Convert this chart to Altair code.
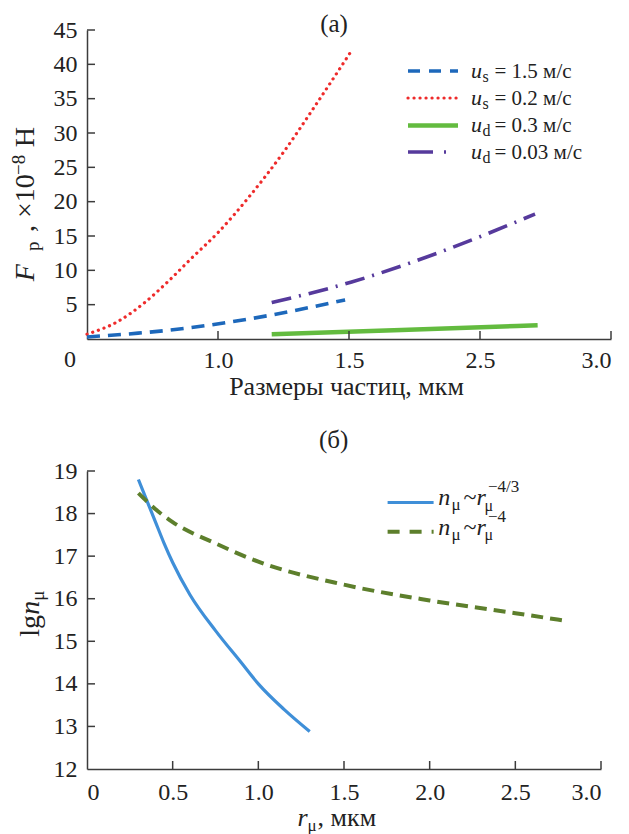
import altair as alt
import pandas as pd

FONT = "Liberation Serif"
TXT = "#222222"
AX = "#3c3c3c"

# ---------- panel (a) data: x in tick-position units (ticks labelled below) ----------
X_TICK_POS = [0, 1, 2, 3, 4]
X_TICK_LABELS = ["0", "1.0", "1.5", "2.5", "3.0"]
Y_TICKS_A = [5, 10, 15, 20, 25, 30, 35, 40, 45]

RED_U = [0, 0.24, 0.44, 0.62, 0.8, 1.0, 1.25, 1.5, 1.75, 2.02]
RED_F = [0.7, 2.6, 5.3, 8.4, 11.8, 15.5, 21.0, 27.2, 34.2, 42.0]
BLUE_U = [0, 0.39, 0.77, 1.1, 1.41, 1.97]
BLUE_F = [0.3, 0.85, 1.6, 2.5, 3.5, 5.7]
PURPLE_U = [1.41, 2.02, 2.5, 3.0, 3.42]
PURPLE_F = [5.3, 8.3, 11.3, 14.9, 18.2]
GREEN_U = [1.41, 2.4, 3.44]
GREEN_F = [0.7, 1.3, 2.0]

# ---------- panel (б) data ----------
X_TICKS_B = [0.5, 1.0, 1.5, 2.0, 2.5, 3.0]
Y_TICKS_B = [13, 14, 15, 16, 17, 18, 19]
N1_R = [0.3, 0.35, 0.4, 0.45, 0.5, 0.6, 0.75, 0.9, 1.0, 1.15, 1.3]
N1_LG = [18.8, 18.3, 17.8, 17.3, 16.85, 16.1, 15.25, 14.5, 14.0, 13.4, 12.88]
N2_R = [0.3, 0.4, 0.5, 0.75, 1.0, 1.5, 2.0, 2.5, 2.78]
N2_LG = [18.48, 18.1, 17.8, 17.3, 16.87, 16.33, 15.96, 15.66, 15.49]

WA, HA = 524, 309
WB, HB = 514, 298

ONE = alt.Data(values=[{"k": 1}])


def txt(s, x, y, size=22, style="normal", angle=0, align="left", baseline="alphabetic"):
    return alt.Chart(ONE).mark_text(
        text=s, fontSize=size, fontStyle=style, angle=angle, align=align,
        baseline=baseline, font=FONT, color=TXT
    ).encode(x=alt.value(x), y=alt.value(y))


def leg_line(x1, x2, y, color, width, dash=None, cap="butt"):
    kw = dict(color=color, strokeWidth=width, strokeCap=cap)
    if dash:
        kw["strokeDash"] = dash
    return alt.Chart(ONE).mark_rule(**kw).encode(
        x=alt.value(x1), x2=alt.value(x2), y=alt.value(y))


AXIS_STYLE = dict(title=None, labelFont=FONT, labelFontSize=24, labelColor=TXT,
                  ticks=False, tickSize=0, grid=False, domainColor=AX, domainWidth=1.5)

# ================= panel (a) =================
xa = alt.X("u:Q", scale=alt.Scale(domain=[0, 4], nice=False, zero=False),
           axis=alt.Axis(values=[1, 2, 3, 4], labelPadding=9,
                         labelExpr="['0','1.0','1.5','2.5','3.0'][datum.value]", **AXIS_STYLE))
ya = alt.Y("f:Q", scale=alt.Scale(domain=[0, 45], nice=False),
           axis=alt.Axis(values=Y_TICKS_A, labelPadding=10, **AXIS_STYLE))


def series_a(us, fs, **mk):
    df = pd.DataFrame({"u": us, "f": fs})
    return alt.Chart(df).mark_line(interpolate="monotone", **mk).encode(x=xa, y=ya)


red = series_a(RED_U, RED_F, color="#ee2b2b", strokeWidth=3.2, strokeDash=[0.1, 5.9], strokeCap="round")
blue = series_a(BLUE_U, BLUE_F, color="#1d68bb", strokeWidth=3.6, strokeDash=[13, 8])
purple = series_a(PURPLE_U, PURPLE_F, color="#563a9c", strokeWidth=3.6, strokeDash=[20, 8, 2, 8])
green = series_a(GREEN_U, GREEN_F, color="#63bb3f", strokeWidth=4.5)

xt_a = alt.Chart(pd.DataFrame({"u": X_TICK_POS[1:]})).mark_rule(color=AX, strokeWidth=1.5).encode(
    x=xa, y=alt.value(HA), y2=alt.value(HA - 8))
yt_a = alt.Chart(pd.DataFrame({"f": Y_TICKS_A})).mark_rule(color=AX, strokeWidth=1.5).encode(
    y=ya, x=alt.value(0), x2=alt.value(8))

texts_a = [
    txt("(a)", 247, 2, size=25, align="center"),
    txt("0", -17, 337, size=24, align="center"),
    txt("Размеры частиц, мкм", 259.5, 365, size=26, align="center"),
    # y title (rotated)
    txt("F", -53, 251.3, size=28, style="italic", angle=270),
    txt("р", -48.5, 221, size=19, angle=270),
    txt(", ×10", -53, 202, size=28, angle=270),
    txt("−8", -62, 145, size=19, angle=270),
    txt("Н", -53, 117.3, size=28, angle=270),
]

LEG_Y = [41, 68, 95.5, 122]
leg_a = [
    leg_line(321, 371, LEG_Y[0], "#1d68bb", 3.6, [12, 9]),
    leg_line(321, 371, LEG_Y[1], "#ee2b2b", 3.2, [0.1, 5.9], "round"),
    leg_line(321, 371, LEG_Y[2], "#63bb3f", 4.5),
    leg_line(321, 371, LEG_Y[3], "#563a9c", 3.6, [25, 11, 2, 20]),
]
LEG_LAB = [("s", "= 1.5 м/с"), ("s", "= 0.2 м/с"), ("d", "= 0.3 м/с"), ("d", "= 0.03 м/с")]
for yy, (sub, rest) in zip(LEG_Y, LEG_LAB):
    leg_a.append(txt("u", 384, yy + 6.5, size=22, style="italic"))
    leg_a.append(txt(sub, 395.5, yy + 10.5, size=16))
    leg_a.append(txt(rest, 407.5, yy + 6.5, size=21))

top = alt.layer(red, blue, purple, green, xt_a, yt_a, *texts_a, *leg_a).properties(width=WA, height=HA)

# ================= panel (б) =================
xb = alt.X("r:Q", scale=alt.Scale(domain=[0, 3], nice=False),
           axis=alt.Axis(values=[0] + X_TICKS_B, labelPadding=11,
                         labelExpr="datum.value == 0 ? '0' : format(datum.value, '.1f')", **AXIS_STYLE))
yb = alt.Y("lg:Q", scale=alt.Scale(domain=[12, 19], nice=False, zero=False),
           axis=alt.Axis(values=[12] + Y_TICKS_B, labelPadding=10, **AXIS_STYLE))


def series_b(rs, ls, **mk):
    df = pd.DataFrame({"r": rs, "lg": ls})
    return alt.Chart(df).mark_line(interpolate="monotone", **mk).encode(x=xb, y=yb)


n1 = series_b(N1_R, N1_LG, color="#3f8fd8", strokeWidth=3.2)
n2 = series_b(N2_R, N2_LG, color="#5d7f2c", strokeWidth=4, strokeDash=[12, 7])

xt_b = alt.Chart(pd.DataFrame({"r": X_TICKS_B})).mark_rule(color=AX, strokeWidth=1.5).encode(
    x=xb, y=alt.value(HB), y2=alt.value(HB - 8))
yt_b = alt.Chart(pd.DataFrame({"lg": Y_TICKS_B})).mark_rule(color=AX, strokeWidth=1.5).encode(
    y=yb, x=alt.value(0), x2=alt.value(8))

texts_b = [
    txt("(б)", 246.6, -23.3, size=25, align="center"),
    txt("r", 210.6, 355, size=26, style="italic"),
    txt("μ", 220.6, 359.5, size=17),
    txt(", мкм", 230.6, 355, size=26),
    txt("lg", -48.4, 165.7, size=28, angle=270),
    txt("n", -48.4, 143.7, size=28, style="italic", angle=270),
    txt("μ", -43, 129.7, size=19, angle=270),
]

leg_b = [
    leg_line(300.6, 346.6, 31.5, "#3f8fd8", 3.2),
    leg_line(300.6, 346.6, 60.7, "#5d7f2c", 4, [12, 10]),
]
for base, sup in [(34, "−4/3"), (63.5, "−4")]:
    leg_b += [
        txt("n", 351.3, base, size=24, style="italic"),
        txt("μ", 364.6, base + 5, size=17),
        txt("~", 376.6, base, size=24),
        txt("r", 389.6, base, size=24, style="italic"),
        txt("μ", 397.6, base + 5.5, size=16),
        txt(sup, 401, base - 13, size=17),
    ]

bottom = alt.layer(n1, n2, xt_b, yt_b, *texts_b, *leg_b).properties(width=WB, height=HB)

chart = alt.vconcat(top, bottom, spacing=27).properties(
    padding={"left": 2, "top": 4, "right": 0, "bottom": 0},
    background="white",
).configure_view(stroke=None).configure_axis(
    grid=False, ticks=False, tickSize=0, domainColor=AX, domainWidth=1.5,
    labelFont=FONT, labelFontSize=24, labelColor=TXT,
)

chart.save("out.html", embed_options={"renderer": "svg", "actions": False})
